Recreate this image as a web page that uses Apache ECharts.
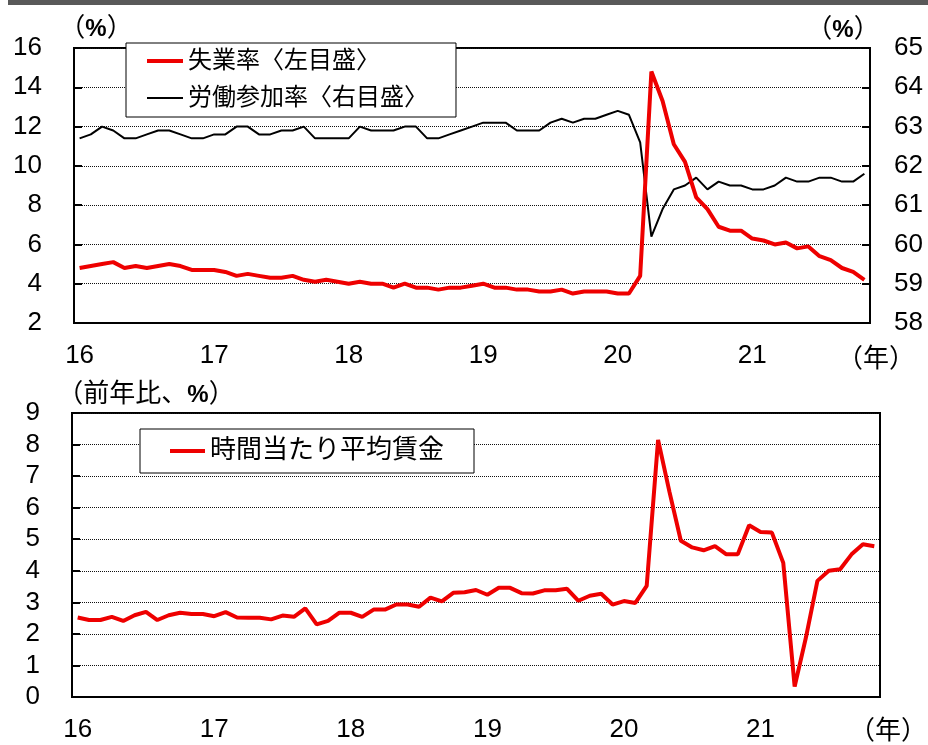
<!DOCTYPE html>
<html>
<head>
<meta charset="utf-8">
<script src="https://cdn.jsdelivr.net/npm/echarts@6/dist/echarts.min.js"></script>
<style>
  html, body { margin: 0; padding: 0; background: #fff; }
  #main { width: 928px; height: 745px; }
</style>
</head>
<body>
<div id="main"></div>
<script>
// 年ラベル（目盛）
var yearLabels = ['16', '17', '18', '19', '20', '21'];
var years = [2016, 2017, 2018, 2019, 2020, 2021];
var lastMonth2021 = 11;

// 失業率（左目盛、%）
var unemp = [
  4.8, 4.9, 5.0, 5.1, 4.8, 4.9, 4.8, 4.9, 5.0, 4.9, 4.7, 4.7,
  4.7, 4.6, 4.4, 4.5, 4.4, 4.3, 4.3, 4.4, 4.2, 4.1, 4.2, 4.1,
  4.0, 4.1, 4.0, 4.0, 3.8, 4.0, 3.8, 3.8, 3.7, 3.8, 3.8, 3.9,
  4.0, 3.8, 3.8, 3.7, 3.7, 3.6, 3.6, 3.7, 3.5, 3.6, 3.6, 3.6,
  3.5, 3.5, 4.4, 14.8, 13.3, 11.1, 10.2, 8.4, 7.8, 6.9, 6.7, 6.7,
  6.3, 6.2, 6.0, 6.1, 5.8, 5.9, 5.4, 5.2, 4.8, 4.6, 4.2
];

// 労働参加率（右目盛、%）
var lfpr = [
  62.7, 62.8, 63.0, 62.9, 62.7, 62.7, 62.8, 62.9, 62.9, 62.8, 62.7, 62.7,
  62.8, 62.8, 63.0, 63.0, 62.8, 62.8, 62.9, 62.9, 63.0, 62.7, 62.7, 62.7,
  62.7, 63.0, 62.9, 62.9, 62.9, 63.0, 63.0, 62.7, 62.7, 62.8, 62.9, 63.0,
  63.1, 63.1, 63.1, 62.9, 62.9, 62.9, 63.1, 63.2, 63.1, 63.2, 63.2, 63.3,
  63.4, 63.3, 62.6, 60.2, 60.9, 61.4, 61.5, 61.7, 61.4, 61.6, 61.5, 61.5,
  61.4, 61.4, 61.5, 61.7, 61.6, 61.6, 61.7, 61.7, 61.6, 61.6, 61.8
];

// 時間当たり平均賃金（前年比、%）
var wage = [
  2.52, 2.44, 2.44, 2.54, 2.41, 2.59, 2.70, 2.44, 2.59, 2.67, 2.63, 2.63,
  2.56, 2.69, 2.52, 2.51, 2.51, 2.46, 2.58, 2.54, 2.81, 2.30, 2.41, 2.67,
  2.67, 2.54, 2.77, 2.77, 2.93, 2.93, 2.86, 3.15, 3.03, 3.30, 3.32, 3.39,
  3.24, 3.46, 3.46, 3.29, 3.28, 3.38, 3.38, 3.43, 3.05, 3.21, 3.27, 2.93,
  3.04, 2.98, 3.52, 8.15, 6.50, 4.95, 4.74, 4.65, 4.78, 4.52, 4.52, 5.44,
  5.23, 5.21, 4.25, 0.33, 1.90, 3.68, 4.00, 4.05, 4.52, 4.84, 4.78
];

var months = [];
years.forEach(function (y) {
  var last = (y === 2021) ? lastMonth2021 : 12;
  for (var m = 1; m <= last; m++) {
    months.push(y + '-' + (m < 10 ? '0' + m : m));
  }
});

var FONT = "'Liberation Sans', 'Noto Sans CJK JP', sans-serif";
var RED = '#ee0000';

function everyYear(index) {
  return index % 12 === 0;
}

function xAxisOf(grid) {
  return {
    type: 'category',
    gridIndex: grid,
    data: months,
    boundaryGap: true,
    axisLine: { lineStyle: { color: '#000', width: 2 } },
    axisTick: { inside: true, length: 8, interval: everyYear, lineStyle: { color: '#000', width: 2 } },
    axisLabel: {
      interval: everyYear,
      margin: 20,
      fontSize: 26,
      color: '#000',
      formatter: function (v, i) { return yearLabels[Math.floor(i / 12)]; }
    },
    splitLine: { show: false }
  };
}

function yAxisOf(grid, min, max, step, pos, margin, grid_lines) {
  return {
    type: 'value',
    gridIndex: grid,
    min: min,
    max: max,
    interval: step,
    position: pos,
    axisLine: { show: true, lineStyle: { color: '#000', width: 2 } },
    axisTick: { show: true, inside: true, length: 8, lineStyle: { color: '#000', width: 2 } },
    axisLabel: { margin: margin, fontSize: 26, color: '#000' },
    splitLine: { show: grid_lines, lineStyle: { color: '#111', width: 1, type: [1, 1] } }
  };
}

var myChart = echarts.init(document.getElementById('main'));
var option = {
  animation: false,
  backgroundColor: '#fff',
  textStyle: { fontFamily: FONT, color: '#000' },
  grid: [
    { left: 74, top: 48, width: 796, height: 275, show: true, borderColor: '#000', borderWidth: 2, outerBoundsMode: 'none' },
    { left: 72, top: 413, width: 808, height: 284, show: true, borderColor: '#000', borderWidth: 2, outerBoundsMode: 'none' }
  ],
  xAxis: [xAxisOf(0), xAxisOf(1)],
  yAxis: [
    yAxisOf(0, 2, 16, 2, 'left', 32, true),
    yAxisOf(0, 58, 65, 1, 'right', 24, false),
    yAxisOf(1, 0, 9, 1, 'left', 32, true)
  ],
  legend: [
    {
      orient: 'vertical',
      left: 126,
      top: 43,
      padding: [5, 28, 6, 21],
      itemGap: 11,
      itemWidth: 36,
      itemHeight: 4,
      backgroundColor: '#fff',
      borderColor: '#000',
      borderWidth: 1,
      borderRadius: 0,
      itemStyle: { borderWidth: 0 },
      textStyle: { fontSize: 24, lineHeight: 26, color: '#000', fontFamily: FONT },
      data: [
        { name: '失業率〈左目盛〉', icon: 'rect' },
        { name: '労働参加率〈右目盛〉', icon: 'path://M0,0L36,0M0,1.1L36,1.1L36,2.9L0,2.9ZM0,4L36,4' }
      ]
    },
    {
      left: 140,
      top: 429,
      padding: [8, 30, 8, 30],
      itemWidth: 35,
      itemHeight: 4,
      backgroundColor: '#fff',
      borderColor: '#000',
      borderWidth: 1,
      borderRadius: 0,
      itemStyle: { borderWidth: 0 },
      textStyle: { fontSize: 26, lineHeight: 28, color: '#000', fontFamily: FONT },
      data: [{ name: '時間当たり平均賃金', icon: 'rect' }]
    }
  ],
  graphic: [
    { type: 'rect', shape: { x: 8, y: 0, width: 920, height: 5 }, style: { fill: '#595959' } },
    {
      type: 'text', x: 96, y: 29,
      style: {
        text: '{a|（}{b|%}{a|）}', align: 'center', verticalAlign: 'middle',
        rich: { a: { fontSize: 26, fontFamily: FONT }, b: { fontSize: 24, fontWeight: 'bold', fontFamily: FONT } }
      }
    },
    {
      type: 'text', x: 843, y: 30,
      style: {
        text: '{a|（}{b|%}{a|）}', align: 'center', verticalAlign: 'middle',
        rich: { a: { fontSize: 26, fontFamily: FONT }, b: { fontSize: 24, fontWeight: 'bold', fontFamily: FONT } }
      }
    },
    {
      type: 'text', x: 876, y: 360,
      style: { text: '（年）', align: 'center', verticalAlign: 'middle', fontSize: 26, fontFamily: FONT, fill: '#000' }
    },
    {
      type: 'text', x: 146, y: 395,
      style: {
        text: '{a|（前年比、}{b|%}{a|）}', align: 'center', verticalAlign: 'middle',
        rich: { a: { fontSize: 26, fontFamily: FONT }, b: { fontSize: 24, fontWeight: 'bold', fontFamily: FONT } }
      }
    },
    {
      type: 'text', x: 888, y: 732,
      style: { text: '（年）', align: 'center', verticalAlign: 'middle', fontSize: 26, fontFamily: FONT, fill: '#000' }
    }
  ],
  series: [
    {
      name: '失業率〈左目盛〉',
      type: 'line',
      xAxisIndex: 0,
      yAxisIndex: 0,
      symbol: 'none',
      z: 3,
      itemStyle: { color: RED },
      lineStyle: { color: RED, width: 4 },
      data: unemp
    },
    {
      name: '労働参加率〈右目盛〉',
      type: 'line',
      xAxisIndex: 0,
      yAxisIndex: 1,
      symbol: 'none',
      z: 2,
      itemStyle: { color: '#000' },
      lineStyle: { color: '#000', width: 2 },
      data: lfpr
    },
    {
      name: '時間当たり平均賃金',
      type: 'line',
      xAxisIndex: 1,
      yAxisIndex: 2,
      symbol: 'none',
      itemStyle: { color: RED },
      lineStyle: { color: RED, width: 4 },
      data: wage
    }
  ]
};
myChart.setOption(option);
</script>
</body>
</html>
